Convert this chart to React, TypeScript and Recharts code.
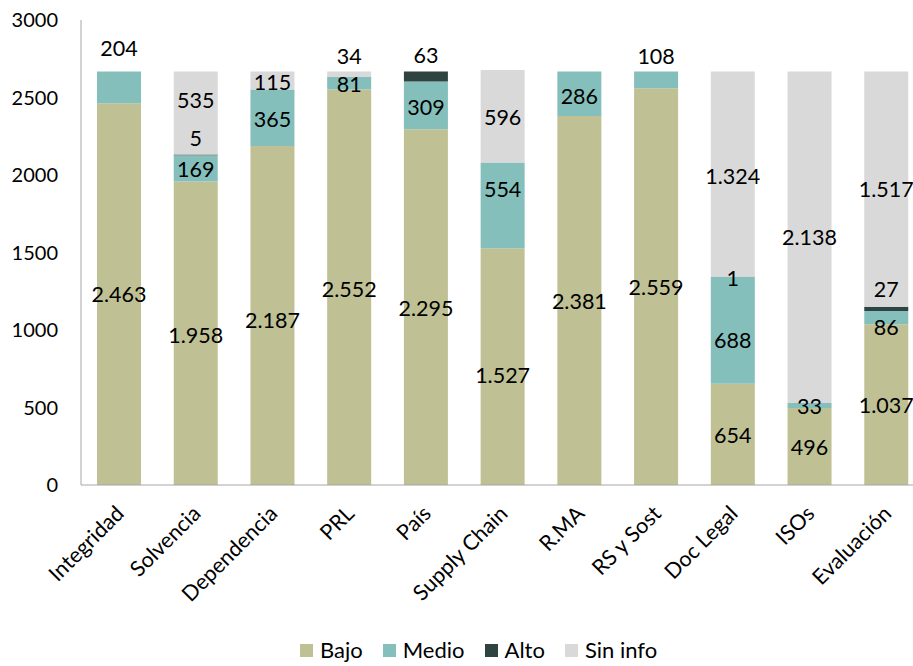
import { Bar, BarChart, LabelList, Legend, XAxis, YAxis } from "recharts";

const categories = ["Integridad", "Solvencia", "Dependencia", "PRL", "País", "Supply Chain", "R.MA", "RS y Sost", "Doc Legal", "ISOs", "Evaluación"];
const bajo = [2463, 1958, 2187, 2552, 2295, 1527, 2381, 2559, 654, 496, 1037];
const medio = [204, 169, 365, 81, 309, 554, 286, 108, 688, 33, 86];
const alto = [0, 5, 0, 0, 63, 0, 0, 0, 1, 0, 27];
const sinInfo = [0, 535, 115, 34, 0, 596, 0, 0, 1324, 2138, 1517];
const yTicks = [0, 500, 1000, 1500, 2000, 2500, 3000];

// vertical nudges (px) of the value labels, like the hand-moved labels in the original
const bajoShift = [0, 2, 4, 2, 1, 8, 1, 0, 1, 0, 0];
const medioShift = [-39, 1, 1, 1, 2, -16, 2, -24, 10, 0, 9];
const altoShift = [0, -17, 0, 0, -21, 0, 0, 0, 1, 0, -20];
const sinShift = [0, -13, 1, -18, 0, 1, 0, 0, 2, 0, 0];

const COLORS = {
  bajo: "#bfc093",
  medio: "#84bfbb",
  alto: "#2f4440",
  sin: "#d9d9d9",
};

const FONT = "Lato, 'Open Sans', sans-serif";

const data = categories.map((name, i) => ({
  idx: i,
  name,
  bajo: bajo[i],
  medio: medio[i],
  alto: alto[i],
  sin: sinInfo[i],
}));

function fmt(v: number) {
  return String(v).replace(/\B(?=(\d{3})+(?!\d))/g, ".");
}

// label value is "categoryIndex|value" so the nudge is looked up by category
function makeLabel(shift: number[]) {
  return (props: any) => {
    const { x, y, width, height, value } = props;
    const [i, v] = String(value).split("|").map(Number);
    if (!v) return null;
    return (
      <text
        x={Number(x) + Number(width) / 2}
        y={Number(y) + Number(height) / 2 + (shift[i] || 0)}
        textAnchor="middle"
        dominantBaseline="central"
        fill="#000"
        fontSize={21.5}
        fontFamily={FONT}
      >
        {fmt(v)}
      </text>
    );
  };
}

function CategoryTick({ x, y, payload }: any) {
  const ax = x + 6;
  const ay = y + 22;
  return (
    <text
      x={ax}
      y={ay}
      transform={`rotate(-45, ${ax}, ${ay})`}
      textAnchor="end"
      fill="#000"
      fontSize={21.5}
      fontFamily={FONT}
    >
      {payload.value}
    </text>
  );
}

const legendItems = [
  { key: "bajo", label: "Bajo", color: COLORS.bajo },
  { key: "medio", label: "Medio", color: COLORS.medio },
  { key: "alto", label: "Alto", color: COLORS.alto },
  { key: "sin", label: "Sin info", color: COLORS.sin },
];

function ChartLegend() {
  return (
    <div style={{ height: 56, position: "relative", fontFamily: FONT, fontSize: 22, color: "#000" }}>
      <div style={{ position: "absolute", top: 28, left: 300, display: "flex", alignItems: "center" }}>
        {legendItems.map((it) => (
          <div key={it.key} style={{ display: "flex", alignItems: "center", marginRight: 20 }}>
            <span style={{ width: 13, height: 13, background: it.color, display: "inline-block", marginRight: 7 }} />
            <span style={{ lineHeight: "24px" }}>{it.label}</span>
          </div>
        ))}
      </div>
    </div>
  );
}

export default function App() {
  return (
    <div style={{ position: "fixed", left: 0, top: 0, width: 913, height: 666, overflow: "hidden", background: "#fff" }}>
      <BarChart width={930} height={666} data={data} margin={{ top: 20, right: 5, left: 0, bottom: 0 }} barSize={44}>
        <XAxis
          dataKey="name"
          interval={0}
          height={125}
          tick={<CategoryTick />}
          tickLine={false}
          axisLine={{ stroke: "#a6a6a6" }}
        />
        <YAxis
          width={81}
          domain={[0, 3000]}
          ticks={yTicks}
          tickLine={false}
          tickSize={0}
          tickMargin={23}
          axisLine={{ stroke: "#a6a6a6" }}
          tick={{ fill: "#000", fontSize: 20, fontFamily: FONT }}
        />
        <Legend verticalAlign="bottom" content={<ChartLegend />} />
        <Bar dataKey="bajo" stackId="a" fill={COLORS.bajo} isAnimationActive={false}>
          <LabelList dataKey={(d: any) => `${d.idx}|${d.bajo}`} content={makeLabel(bajoShift)} />
        </Bar>
        <Bar dataKey="medio" stackId="a" fill={COLORS.medio} isAnimationActive={false}>
          <LabelList dataKey={(d: any) => `${d.idx}|${d.medio}`} content={makeLabel(medioShift)} />
        </Bar>
        <Bar dataKey="alto" stackId="a" fill={COLORS.alto} isAnimationActive={false}>
          <LabelList dataKey={(d: any) => `${d.idx}|${d.alto}`} content={makeLabel(altoShift)} />
        </Bar>
        <Bar dataKey="sin" stackId="a" fill={COLORS.sin} isAnimationActive={false}>
          <LabelList dataKey={(d: any) => `${d.idx}|${d.sin}`} content={makeLabel(sinShift)} />
        </Bar>
      </BarChart>
    </div>
  );
}
